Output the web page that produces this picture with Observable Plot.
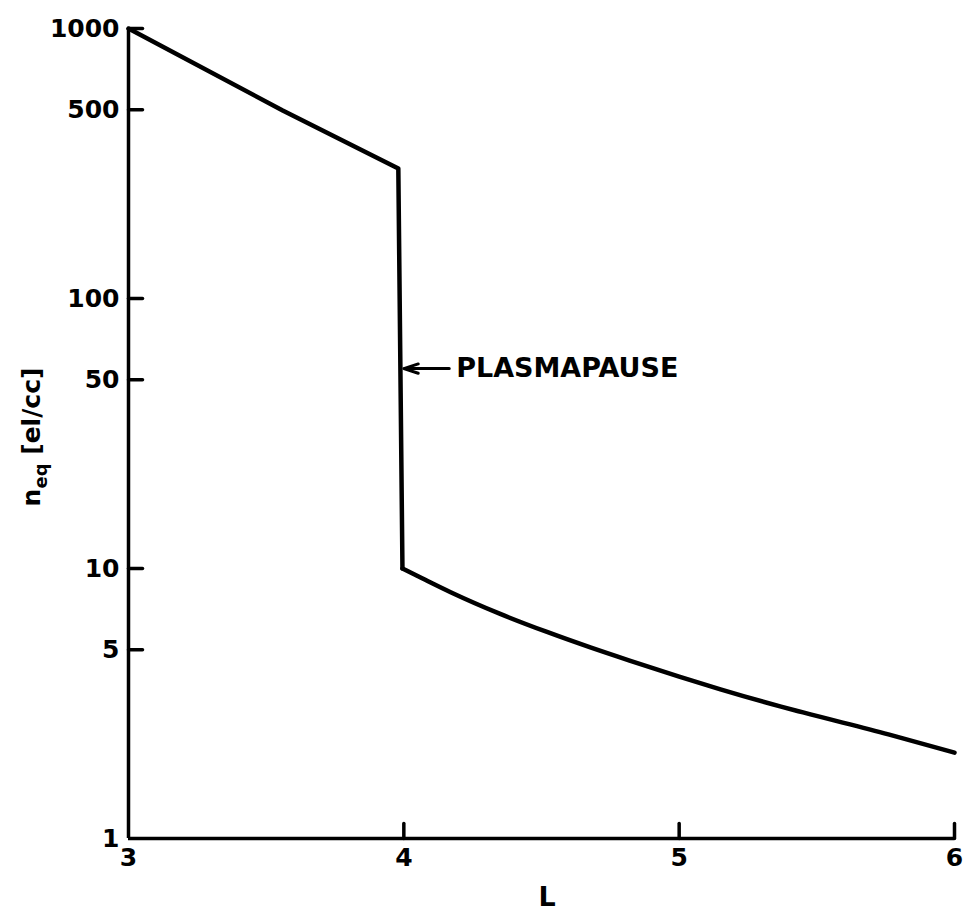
<!DOCTYPE html>
<html><head><meta charset="utf-8">
<script src="https://cdn.jsdelivr.net/npm/d3@7"></script>
<script src="https://cdn.jsdelivr.net/npm/@observablehq/plot@0.6"></script>
<style>body{margin:0;background:#fff} #chart svg{display:block}</style>
</head><body><div id="chart"></div>
<script>
// Inner plasmasphere: near-straight (in log) decline, then the plasmapause drop
const upperL = [3, 3.56, 3.98, 3.995];
const upperN = [1000, 497, 303, 10];
// Outer region beyond the plasmapause
const lowerL = [3.995, 4.07, 4.17, 4.35, 4.52, 4.68, 4.82, 5.0, 5.15, 5.37, 5.45, 5.76, 6.0];
const lowerN = [10, 9.16, 8.17, 6.79, 5.82, 5.09, 4.56, 3.98, 3.57, 3.08, 2.93, 2.43, 2.08];
const xTicks = [3, 4, 5, 6];
const yTicks = [1, 5, 10, 50, 100, 500, 1000];
const noteText = ["PLASMAPAUSE"];
const noteL = [4.19];
const noteN = [55];
const arrowFromL = [4.165];
const arrowToL = [4.0];

const upper = upperL.map((L, i) => ({L, n: upperN[i]}));
const lower = lowerL.map((L, i) => ({L, n: lowerN[i]}));
const note = noteText.map((t, i) => ({t, L: noteL[i], n: noteN[i], L1: arrowFromL[i], L2: arrowToL[i]}));

const tickShape = {draw(ctx, l) { ctx.moveTo(0, 0); ctx.lineTo(0, -l); }};
const xMin = xTicks[0], xMax = xTicks[xTicks.length - 1];
const yMin = yTicks[0], yMax = yTicks[yTicks.length - 1];

const plot = Plot.plot({
  width: 966, height: 913,
  marginLeft: 128, marginRight: 12, marginTop: 28, marginBottom: 75,
  x: {type: "linear", domain: [xMin, xMax], axis: null},
  y: {type: "log", domain: [yMin, yMax], axis: null},
  style: {fontFamily: "'DejaVu Sans', sans-serif", fontWeight: "bold", color: "#000", background: "#fff"},
  marks: [
    Plot.text(xTicks, {x: d => d, y: () => yMin, text: d => String(d), lineAnchor: "top", dy: 10, fontSize: 25, fontWeight: "bold", fill: "#000"}),
    Plot.text(yTicks, {x: () => xMin, y: d => d, text: d => String(d), textAnchor: "end", dx: -9, fontSize: 25, fontWeight: "bold", fill: "#000"}),
    Plot.ruleX([xMin], {y1: yMin, y2: yMax, strokeWidth: 3.5, stroke: "#000"}),
    Plot.ruleY([yMin], {x1: xMin, x2: xMax, strokeWidth: 3.5, stroke: "#000"}),
    Plot.vector(yTicks.filter(v => v !== yMin), {x: () => xMin, y: d => d, length: 14, rotate: 90, anchor: "start", shape: tickShape, stroke: "#000", strokeWidth: 3.5}),
    Plot.vector(xTicks.filter(v => v !== xMin), {x: d => d, y: () => yMin, length: 15, rotate: 0, anchor: "start", shape: tickShape, stroke: "#000", strokeWidth: 3.5}),
    Plot.line(upper, {x: "L", y: "n", stroke: "#000", strokeWidth: 4.5, strokeLinejoin: "round", strokeLinecap: "round"}),
    Plot.line(lower, {x: "L", y: "n", stroke: "#000", strokeWidth: 4.5, curve: "monotone-x", strokeLinejoin: "round", strokeLinecap: "round"}),
    Plot.arrow(note, {x1: "L1", y1: "n", x2: "L2", y2: "n", stroke: "#000", strokeWidth: 3, headLength: 14, headAngle: 36, bend: 0}),
    Plot.text(note, {x: "L", y: "n", text: "t", textAnchor: "start", fontSize: 27, fontWeight: "bold", fill: "#000"})
  ]
});

const svg = d3.select(plot);
const yl = svg.append("text")
  .attr("transform", "translate(40,437) rotate(-90)")
  .attr("text-anchor", "middle")
  .attr("font-size", 25).attr("font-weight", "bold").attr("fill", "#000");
yl.append("tspan").text("n");
yl.append("tspan").attr("font-size", 18).attr("dy", 7).text("eq");
yl.append("tspan").attr("dy", -7).text(" [el/cc]");
svg.append("text")
  .attr("x", 547).attr("y", 906)
  .attr("text-anchor", "middle")
  .attr("font-size", 27).attr("font-weight", "bold").attr("fill", "#000")
  .text("L");

document.getElementById("chart").appendChild(plot);
</script>
</body></html>
